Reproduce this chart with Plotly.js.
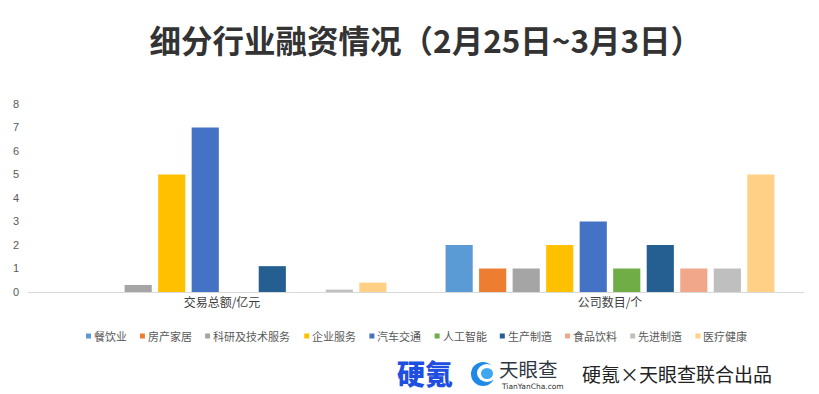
<!DOCTYPE html>
<html>
<head>
<meta charset="utf-8">
<script src="https://cdn.plot.ly/plotly-3.0.1.min.js"></script>
<style>html,body{margin:0;padding:0;background:#fff;}#chart{width:819px;height:394px;}</style>
</head>
<body>
<div id="chart"></div>
<script>
// ---- data ----
var categories = ['交易总额/亿元', '公司数目/个'];
var seriesNames = ['餐饮业', '房产家居', '科研及技术服务', '企业服务', '汽车交通', '人工智能', '生产制造', '食品饮料', '先进制造', '医疗健康'];
var amountValues = [0, 0, 0.3, 5, 7, 0, 1.1, 0, 0.1, 0.4];
var countValues = [2, 1, 1, 2, 3, 1, 2, 1, 1, 5];
var seriesColors = ['#5B9BD5', '#ED7D31', '#A5A5A5', '#FFC000', '#4472C4', '#70AD47', '#255E91', '#F1A78A', '#BFBFBF', '#FFD086'];
var yTicks = [0, 1, 2, 3, 4, 5, 6, 7, 8];

var W = 819, H = 394;
var M = {l: 28, r: 15, t: 104, b: 102};
var FONT = '"Noto Sans CJK SC", "Noto Sans", sans-serif';
var pw = W - M.l - M.r, ph = H - M.t - M.b;
function px(x) { return (x - M.l) / pw; }
function py(y) { return (H - M.b - y) / ph; }

var traces = seriesNames.map(function (name, i) {
  return {
    type: 'bar',
    name: name,
    x: categories,
    y: [amountValues[i], countValues[i]],
    marker: {color: seriesColors[i]},
    hoverinfo: 'name+y',
    showlegend: false
  };
});

// custom compact legend (shapes + annotations)
var shapes = [], annotations = [];
var cursor = 86, legendY = 336, charW = 11.3;
seriesNames.forEach(function (name, i) {
  shapes.push({
    type: 'rect', xref: 'paper', yref: 'paper',
    x0: px(cursor), x1: px(cursor + 5), y0: py(legendY + 2.5), y1: py(legendY - 2.5),
    fillcolor: seriesColors[i], line: {width: 0}
  });
  annotations.push({
    xref: 'paper', yref: 'paper', x: px(cursor + 6), y: py(legendY),
    xanchor: 'left', yanchor: 'middle', showarrow: false,
    text: name, font: {family: FONT, size: 11, color: '#595959'}
  });
  cursor += 8 + name.length * charW + 12;
});

// footer logos
annotations.push({
  xref: 'paper', yref: 'paper', x: px(395), y: py(373), xanchor: 'left', yanchor: 'middle',
  showarrow: false, text: '硬氪', font: {family: FONT, size: 28, color: '#1F4FE0', weight: 900}
});
shapes.push({
  type: 'circle', xref: 'paper', yref: 'paper',
  x0: px(471), x1: px(495), y0: py(386), y1: py(362),
  fillcolor: '#1E8AE6', line: {width: 0}
});
shapes.push({
  type: 'circle', xref: 'paper', yref: 'paper',
  x0: px(477), x1: px(497), y0: py(382), y1: py(364),
  fillcolor: '#FFFFFF', line: {width: 0}
});
shapes.push({
  type: 'circle', xref: 'paper', yref: 'paper',
  x0: px(481), x1: px(493), y0: py(379), y1: py(368),
  fillcolor: '#3FA6F0', line: {width: 0}
});
annotations.push({
  xref: 'paper', yref: 'paper', x: px(497), y: py(368), xanchor: 'left', yanchor: 'middle',
  showarrow: false, text: '天眼查', font: {family: FONT, size: 19.5, color: '#2E3642'}
});
annotations.push({
  xref: 'paper', yref: 'paper', x: px(499), y: py(386.5), xanchor: 'left', yanchor: 'middle',
  showarrow: false, text: 'TianYanCha.com', font: {family: 'DejaVu Sans, sans-serif', size: 7.5, color: '#333333'}
});
annotations.push({
  xref: 'paper', yref: 'paper', x: px(580), y: py(373), xanchor: 'left', yanchor: 'middle',
  showarrow: false, text: '硬氪×天眼查联合出品', font: {family: FONT, size: 19, color: '#222222'}
});

var layout = {
  width: W, height: H,
  margin: M,
  paper_bgcolor: '#ffffff', plot_bgcolor: '#ffffff',
  title: {
    text: '细分行业融资情况（2月25日~3月3日）',
    x: 0.52, xanchor: 'center', y: 1 - 42 / H, yanchor: 'middle',
    font: {family: FONT, size: 31.5, color: '#333333', weight: 700}
  },
  barmode: 'group',
  bargap: 0.136,
  bargroupgap: 0.19,
  showlegend: false,
  xaxis: {
    type: 'category',
    showline: true, linecolor: '#D9D9D9', linewidth: 1,
    showgrid: false, zeroline: false, ticks: '',
    tickfont: {family: FONT, size: 12, color: '#404040'},
    fixedrange: true
  },
  yaxis: {
    range: [0, 8],
    tickvals: yTicks,
    showgrid: false, zeroline: false, showline: false, ticks: '',
    ticklabelstandoff: 8,
    tickfont: {family: '"Liberation Sans", sans-serif', size: 11, color: '#595959'},
    fixedrange: true
  },
  shapes: shapes,
  annotations: annotations
};

Plotly.newPlot('chart', traces, layout, {displayModeBar: false, staticPlot: true});
</script>
</body>
</html>
